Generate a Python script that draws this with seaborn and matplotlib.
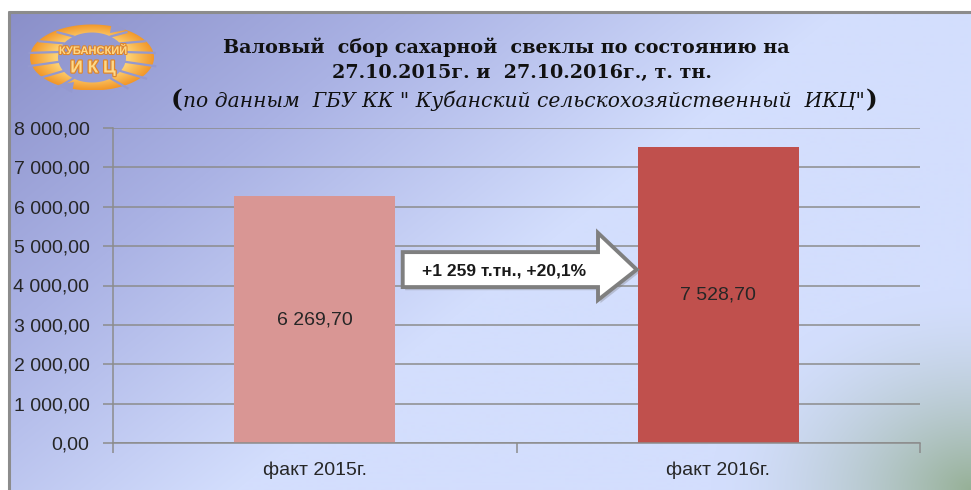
import numpy as np
import pandas as pd
import matplotlib
matplotlib.use("Agg")
import matplotlib.pyplot as plt
import seaborn as sns
from matplotlib.patches import Polygon, PathPatch
from matplotlib.path import Path
from matplotlib.ticker import FuncFormatter, MultipleLocator
import matplotlib.patheffects as pe

# ---------------- data ----------------
categories = ["факт 2015г.", "факт 2016г."]
values = [6269.70, 7528.70]
bar_colors = ["#D99694", "#C0504D"]
title_line1 = "Валовый  сбор сахарной  свеклы по состоянию на"
title_line2 = "27.10.2015г. и  27.10.2016г., т. тн."
title_line3 = "по данным  ГБУ КК \" Кубанский сельскохозяйственный  ИКЦ\""
arrow_text = "+1 259 т.тн., +20,1%"
logo_top = "КУБАНСКИЙ"
logo_bottom = "И К Ц"
y_ticks = [0, 1000, 2000, 3000, 4000, 5000, 6000, 7000, 8000]

sns.set_theme(style="white")
plt.rcParams["font.family"] = ["Liberation Sans", "DejaVu Sans"]

W, H = 971, 490
fig = plt.figure(figsize=(W / 100, H / 100), dpi=100)
fig.patch.set_facecolor("white")


def fmt(v):
    return f"{v:,.2f}".replace(",", " ").replace(".", ",")


# ---------------- background gradient ----------------
bx0, btop = 9, 12
bg = fig.add_axes([bx0 / W, 0, 1 - bx0 / W, (H - btop) / H])
bg.set_zorder(-5)
bw, bh = W - bx0, H - btop
xx, yy = np.meshgrid(np.linspace(0, 1, bw), np.linspace(0, 1, bh))
t = np.clip(0.72 * xx + 0.45 * yy, 0, 1)
stops = np.array([0.0, 0.30, 0.62, 1.0])
c0 = np.array([0x8A, 0x8F, 0xC9]) / 255
c1 = np.array([0xAA, 0xB2, 0xE4]) / 255
c2 = np.array([0xD3, 0xDE, 0xFD]) / 255
c3 = np.array([0xD3, 0xDE, 0xFD]) / 255
cols = np.stack([c0, c1, c2, c3])
img = np.zeros((bh, bw, 3))
for k in range(3):
    img[..., k] = np.interp(t, stops, cols[:, k])
px = xx * bw
py = yy * bh
d = np.sqrt((bw - px) ** 2 + ((bh - py) * 1.3) ** 2)
wgt = np.clip(1 - d / 260.0, 0, 1) ** 1.6
green = np.array([0x96, 0xB0, 0x96]) / 255
img = img * (1 - wgt[..., None]) + green * wgt[..., None]
bg.imshow(img, aspect="auto", extent=[0, 1, 1, 0])
bg.set_xlim(0, 1)
bg.set_ylim(1, 0)
bg.axis("off")
fig.add_artist(plt.Line2D([bx0 / W, 1], [(H - btop) / H] * 2, color="#8C8C8C", lw=2.2))
fig.add_artist(plt.Line2D([bx0 / W] * 2, [0, (H - btop) / H], color="#8C8C8C", lw=2.2))

# ---------------- main chart ----------------
ax_l, ax_r, ax_b, ax_t = 113, 920, 443, 128
ax = fig.add_axes([ax_l / W, (H - ax_b) / H, (ax_r - ax_l) / W, (ax_b - ax_t) / H])
ax.patch.set_alpha(0)

df = pd.DataFrame({"cat": categories, "val": values})
sns.barplot(data=df, x="cat", y="val", hue="cat", palette=bar_colors,
            width=0.4, legend=False, ax=ax, saturation=1, zorder=2,
            edgecolor="none", linewidth=0)
ax.set_xlim(-0.5, 1.5)
ax.set_ylim(0, 8000)
ax.set_yticks(y_ticks)
ax.yaxis.set_major_formatter(FuncFormatter(lambda v, p: fmt(v)))
ax.grid(axis="y", color="#8C8C8C", lw=1.1, zorder=0)
ax.set_axisbelow(True)
ax.set_xlabel("")
ax.set_ylabel("")
for s in ["top", "right"]:
    ax.spines[s].set_visible(False)
for s in ["left", "bottom"]:
    ax.spines[s].set_color("#8C8C8C")
    ax.spines[s].set_linewidth(1.1)
ax.tick_params(axis="y", which="major", left=True, length=7, width=1.1,
               color="#8C8C8C", labelsize=14, labelcolor="#262626", pad=10)
ax.set_xticks([0, 1])
ax.set_xticklabels(categories)
ax.tick_params(axis="x", which="major", bottom=False, labelsize=14,
               labelcolor="#262626", pad=7)
ax.xaxis.set_minor_locator(MultipleLocator(1.0, offset=0.5))
ax.tick_params(axis="x", which="minor", bottom=True, length=7, width=1.1,
               color="#8C8C8C")

for cont in ax.containers:
    ax.bar_label(cont, labels=[fmt(v) for v in cont.datavalues],
                 label_type="center", fontsize=14, color="#262626")

# ---------------- arrow annotation ----------------
x_tail, x_base, x_tip = 0.359, 0.601, 0.649
y_btop, y_bbot = 0.606, 0.495
y_htop, y_hbot = 0.667, 0.454
y_mid = (y_btop + y_bbot) / 2
pts = [(x_tail, y_btop), (x_base, y_btop), (x_base, y_htop), (x_tip, y_mid),
       (x_base, y_hbot), (x_base, y_bbot), (x_tail, y_bbot)]
shadow = Polygon([(x + 0.003, y - 0.01) for x, y in pts], closed=True,
                 transform=ax.transAxes, facecolor="#707070", alpha=0.3,
                 edgecolor="none", zorder=3, clip_on=False)
ax.add_patch(shadow)
arrow = Polygon(pts, closed=True, transform=ax.transAxes, facecolor="white",
                edgecolor="#7F7F7F", lw=2.8, joinstyle="miter", zorder=4,
                clip_on=False)
ax.add_patch(arrow)
ax.text((x_tail + x_base) / 2 + 0.005, y_mid - 0.005, arrow_text,
        transform=ax.transAxes, ha="center", va="center", fontsize=12.5,
        fontweight="bold", color="#1A1A1A", zorder=5)

# ---------------- title ----------------
serif = ["DejaVu Serif", "Liberation Serif"]
r = fig.canvas.get_renderer()


def fit(txt, target_px):
    fig.canvas.draw()
    w = txt.get_window_extent(r).width
    txt.set_fontsize(txt.get_fontsize() * target_px / w)


l1 = fig.text(506 / W, 1 - 47 / H, title_line1, ha="center", va="center",
              family=serif, fontweight="bold", fontsize=14, color="#111111")
fit(l1, 568)
l2 = fig.text(522 / W, 1 - 73 / H, title_line2, ha="center", va="center",
              family=serif, fontweight="bold", fontsize=l1.get_fontsize(),
              color="#111111")
l3 = fig.text(524 / W, 1 - 101 / H, title_line3, ha="center", va="center",
              family=serif, style="italic", fontsize=14, color="#111111")
fit(l3, 682)
fig.canvas.draw()
bb = l3.get_window_extent(r)
fig.text(bb.x0 / W - 0.001, 1 - 100 / H, "(", ha="right", va="center",
         family=serif, fontweight="bold", fontsize=18, color="#111111")
fig.text(bb.x1 / W + 0.001, 1 - 100 / H, ")", ha="left", va="center",
         family=serif, fontweight="bold", fontsize=18, color="#111111")

# ---------------- logo ----------------
lg = fig.add_axes([0, 0, 1, 1])
lg.set_xlim(0, W)
lg.set_ylim(H, 0)
lg.axis("off")
lg.patch.set_alpha(0)
cx, cy = 92, 57.5
a_out, b_out = 62, 33
a_in, b_in = 34, 25
th = np.linspace(0, 2 * np.pi, 200)
outer = np.column_stack([cx + a_out * np.cos(th), cy + b_out * np.sin(th)])
inner = np.column_stack([cx + a_in * np.cos(th[::-1]), cy + b_in * np.sin(th[::-1])])
verts = np.vstack([outer, inner])
codes = ([Path.MOVETO] + [Path.LINETO] * (len(outer) - 2) + [Path.CLOSEPOLY]) * 2
ring_path = Path(verts, codes)
ring = PathPatch(ring_path, facecolor="none", edgecolor="none")
lg.add_patch(ring)
# radial orange gradient clipped to the ring
gx, gy = np.meshgrid(np.linspace(cx - a_out, cx + a_out, 160),
                     np.linspace(cy - b_out, cy + b_out, 90))
rr = np.sqrt(((gx - cx) / a_out) ** 2 + ((gy - cy) / b_out) ** 2)
s = np.clip((rr - 0.6) / 0.4, 0, 1)
col_in = np.array([0xFD, 0xD0, 0x72]) / 255
col_out = np.array([0xF2, 0x98, 0x2A]) / 255
gimg = col_in * (1 - s[..., None]) + col_out * s[..., None]
im = lg.imshow(gimg, extent=[cx - a_out, cx + a_out, cy + b_out, cy - b_out],
               interpolation="bilinear", zorder=2)
im.set_clip_path(ring)
lg.set_xlim(0, W)
lg.set_ylim(H, 0)
lg.set_aspect("auto")
# petal separators (background coloured gaps)
sep_col = "#9499CF"
for ang in [-58, -35, -13, 10, 33, 57]:
    for side in (1, -1):
        a = np.deg2rad(ang)
        ca = side * np.cos(a)
        sa = np.sin(a)
        x1, y1 = cx + a_in * 0.98 * ca, cy + b_in * 0.98 * sa
        x2, y2 = cx + a_out * 1.02 * ca + side * 2, cy + b_out * 1.02 * sa + 3
        lg.plot([x1, x2], [y1, y2], color=sep_col, lw=1.6, zorder=3,
                solid_capstyle="butt")
# arrow-like breaks on the top and bottom arcs
lg.add_patch(Polygon([(112, 22), (126, 30), (110, 33)], closed=True,
                     facecolor=sep_col, edgecolor="none", zorder=3))
lg.add_patch(Polygon([(72, 93), (58, 85), (74, 82)], closed=True,
                     facecolor=sep_col, edgecolor="none", zorder=3))
lg.text(cx + 1, 51, logo_top, ha="center", va="center", fontsize=8,
        fontweight="bold", color="#FDD98A", zorder=4,
        family=["Liberation Sans", "DejaVu Sans"],
        path_effects=[pe.withStroke(linewidth=1.5, foreground="#E0862A")])
lg.text(cx + 1, 68, logo_bottom, ha="center", va="center", fontsize=12.5,
        fontweight="bold", color="#FDD98A", zorder=4,
        family=["Liberation Sans", "DejaVu Sans"],
        path_effects=[pe.withStroke(linewidth=1.8, foreground="#E0862A")])

fig.savefig("out.png", dpi=100)
